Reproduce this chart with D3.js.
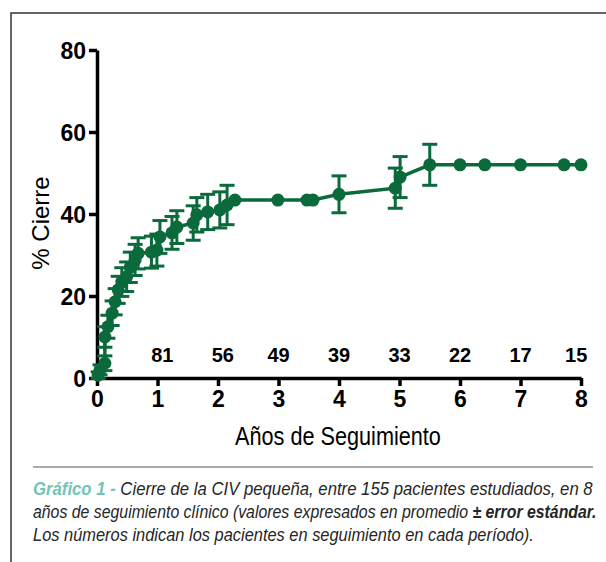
<!DOCTYPE html>
<html>
<head>
<meta charset="utf-8">
<script src="https://cdn.jsdelivr.net/npm/d3@7"></script>
<style>
  body { margin: 0; background: #fff; }
  svg { display: block; }
</style>
</head>
<body>
<svg id="chart" width="606" height="562"></svg>
<script>
// years of follow-up, % closure, standard error
var years = [0.02, 0.05, 0.13, 0.13, 0.18, 0.25, 0.30, 0.35, 0.41, 0.49, 0.55, 0.63, 0.68, 0.90, 0.99, 1.04, 1.24, 1.32, 1.59, 1.65, 1.83, 2.03, 2.15, 2.28, 2.99, 3.47, 3.57, 4.00, 4.93, 5.01, 5.50, 6.00, 6.41, 7.00, 7.72, 8.00]
var closure = [0.7, 2, 3.6, 10, 12.5, 15.8, 18.6, 21.5, 23.4, 24.7, 27, 28.8, 30.4, 30.7, 31.2, 34.4, 35.4, 36.8, 37.8, 39.8, 40.5, 41, 42.2, 43.4, 43.4, 43.4, 43.4, 44.8, 46.3, 49, 52, 52, 52, 52, 52, 52]
var stderr = [0.8, 1.2, 1.8, 2.5, 2.8, 3, 3.2, 3.3, 3.5, 3.6, 3.7, 3.8, 3.8, 3.9, 3.9, 4, 4, 4, 4.2, 4.2, 4.3, 4.4, 4.8, 0, 0, 0, 0, 4.5, 4.9, 5, 5, 0, 0, 0, 0, 0]

// patients still followed
var countYears = [1.08, 2.08, 3, 4, 5, 6, 7, 7.92]
var counts = [81, 56, 49, 39, 33, 22, 17, 15]

var xTicks = [0, 1, 2, 3, 4, 5, 6, 7, 8]
var yTicks = [0, 20, 40, 60, 80]

var green = "#0b6a3b"
var font = "'Liberation Sans', Arial, sans-serif"

var svg = d3.select("#chart")
var data = years.map((d, i) => ({ t: d, v: closure[i], e: stderr[i] }))

var x = d3.scaleLinear().domain([0, 8]).range([97, 581])
var y = d3.scaleLinear().domain([0, 80]).range([378, 50])

// squeeze a text horizontally to a given width (the original uses a condensed face)
function fitWidth(sel, left, base, width) {
  var w = sel.node().getComputedTextLength()
  sel.attr("transform", `translate(${left},${base}) scale(${width / w},1)`)
}

// frame
svg.append("path")
  .attr("d", "M11,562 L11,13 L606,13")
  .attr("fill", "none")
  .attr("stroke", "#333")
  .attr("stroke-width", 1.5)

// axes
var yAxis = svg.append("g")
  .attr("transform", "translate(97,0)")
  .call(d3.axisLeft(y).tickValues(yTicks).tickSize(8).tickSizeOuter(0).tickPadding(3))
var xAxis = svg.append("g")
  .attr("transform", "translate(0,378)")
  .call(d3.axisBottom(x).tickValues(xTicks).tickSize(8).tickSizeOuter(0).tickPadding(3))

;[yAxis, xAxis].forEach(g => {
  g.select(".domain").attr("stroke", "#000").attr("stroke-width", 3.5)
  g.selectAll(".tick line").attr("stroke", "#000").attr("stroke-width", 3.5)
  g.selectAll(".tick text")
    .attr("fill", "#000")
    .style("font-family", font)
    .style("font-weight", "bold")
    .style("font-size", "23px")
})
yAxis.selectAll(".tick text").attr("dy", "0.36em")
xAxis.selectAll(".tick text").attr("dy", "0.78em")

// axis titles
var xt = svg.append("text")
  .style("font-family", font).style("font-size", "26px")
  .text("Años de Seguimiento")
fitWidth(xt, 235, 445, 206)

svg.append("text")
  .attr("transform", "translate(49,223) rotate(-90)")
  .attr("text-anchor", "middle")
  .style("font-family", font).style("font-size", "24px")
  .text("% Cierre")

// line
svg.append("path")
  .datum(data)
  .attr("fill", "none")
  .attr("stroke", green)
  .attr("stroke-width", 3.5)
  .attr("d", d3.line().x(d => x(d.t)).y(d => y(d.v)))

// error bars
var bars = svg.append("g").selectAll("g")
  .data(data.filter(d => d.e > 0))
  .join("g")
  .attr("stroke", green)
  .attr("stroke-width", 3)
bars.append("line")
  .attr("x1", d => x(d.t)).attr("x2", d => x(d.t))
  .attr("y1", d => y(d.v - d.e)).attr("y2", d => y(d.v + d.e))
bars.append("line")
  .attr("x1", d => x(d.t) - 7.5).attr("x2", d => x(d.t) + 7.5)
  .attr("y1", d => y(d.v + d.e)).attr("y2", d => y(d.v + d.e))
bars.append("line")
  .attr("x1", d => x(d.t) - 7.5).attr("x2", d => x(d.t) + 7.5)
  .attr("y1", d => y(d.v - d.e)).attr("y2", d => y(d.v - d.e))

// points
svg.append("g").selectAll("circle")
  .data(data)
  .join("circle")
  .attr("cx", d => x(d.t))
  .attr("cy", d => y(d.v))
  .attr("r", 6.5)
  .attr("fill", green)

// patient counts
svg.append("g").selectAll("text")
  .data(counts)
  .join("text")
  .attr("x", (d, i) => x(countYears[i]))
  .attr("y", y(3.9))
  .attr("text-anchor", "middle")
  .style("font-family", font).style("font-weight", "bold").style("font-size", "20px")
  .text(d => d)

// caption
svg.append("line")
  .attr("x1", 33).attr("x2", 593)
  .attr("y1", 467).attr("y2", 467)
  .attr("stroke", "#555").attr("stroke-width", 1.2)

var cap = svg.append("g")
  .style("font-family", font).style("font-style", "italic").style("font-size", "19px")
  .attr("fill", "#262626")

var l1 = cap.append("text")
l1.append("tspan").attr("fill", "#6fc6b4").style("font-weight", "bold").text("Gráfico 1 - ")
l1.append("tspan").text("Cierre de la CIV pequeña, entre 155 pacientes estudiados, en 8")
fitWidth(l1, 33, 495, 560)

var l2 = cap.append("text")
l2.append("tspan").text("años de seguimiento clínico (valores expresados en promedio ")
l2.append("tspan").style("font-weight", "bold").text("± error estándar.")
fitWidth(l2, 33, 518, 564)

var l3 = cap.append("text")
  .text("Los números indican los pacientes en seguimiento en cada período).")
fitWidth(l3, 33, 541, 501)
</script>
</body>
</html>
